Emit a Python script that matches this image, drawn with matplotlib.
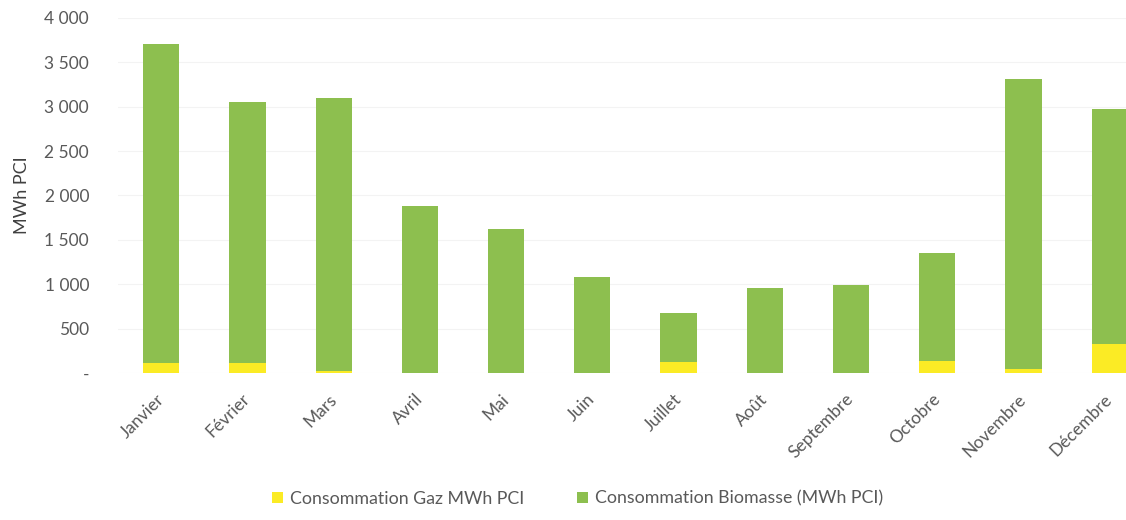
import matplotlib.pyplot as plt
import numpy as np
from matplotlib.ticker import FuncFormatter

mois = ['Janvier', 'Février', 'Mars', 'Avril', 'Mai', 'Juin', 'Juillet',
        'Août', 'Septembre', 'Octobre', 'Novembre', 'Décembre']
gaz = [115, 110, 25, 0, 0, 0, 125, 0, 0, 135, 45, 325]
biomasse = [3590, 2940, 3075, 1880, 1620, 1080, 555, 960, 990, 1215, 3265, 2650]

vert = '#8dbf4f'
jaune = '#fbeb25'
gris = '#595959'

plt.rcParams['font.family'] = ['Lato', 'DejaVu Sans']

fig = plt.figure(figsize=(11.26, 5.2), dpi=100)
ax = fig.add_axes([0.105, 0.2827, 0.895, 0.6827])

x = np.arange(len(mois))
w = 0.42
ax.bar(x, gaz, w, color=jaune, label='Consommation Gaz MWh PCI', zorder=3)
ax.bar(x, biomasse, w, bottom=gaz, color=vert,
       label='Consommation Biomasse (MWh PCI)', zorder=3)

ax.set_xlim(-0.5, 11.19)
ax.set_ylim(0, 4000)
ax.set_yticks(np.arange(0, 4001, 500))


def fmt(v, pos):
    if v == 0:
        return '-'
    return f'{int(v):,}'.replace(',', ' ')


ax.yaxis.set_major_formatter(FuncFormatter(fmt))
ax.grid(axis='y', color='#f3f3f3', linewidth=0.8, zorder=0)
for s in ax.spines.values():
    s.set_visible(False)
ax.tick_params(axis='y', length=0, pad=21, labelsize=12.5, labelcolor=gris)
ax.tick_params(axis='x', length=0, pad=17, labelsize=12.5, labelcolor=gris)
ax.set_xticks(x)
ax.set_xticklabels(mois, rotation=45, ha='right', va='center',
                   rotation_mode='anchor')
ax.set_ylabel('MWh PCI', fontsize=13, color='#404040')
ax.yaxis.set_label_coords(-0.088, 0.5)

fig.legend(loc='lower center', bbox_to_anchor=(0.513, -0.005), ncol=2,
           frameon=False, fontsize=12.8, handlelength=0.6, handleheight=0.6,
           columnspacing=3.0, handletextpad=0.4, labelcolor=gris)

fig.savefig('out.png', dpi=100)
